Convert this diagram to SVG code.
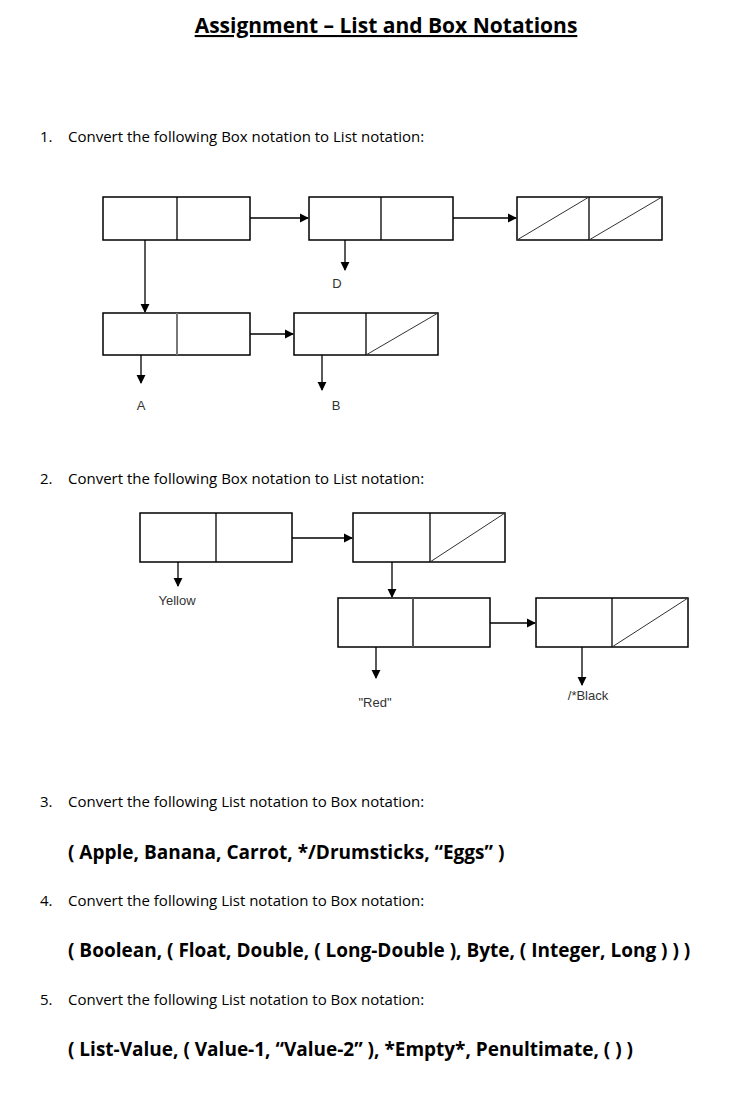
<svg xmlns="http://www.w3.org/2000/svg" width="735" height="1105" viewBox="0 0 735 1105">
<style>
.b{fill:#fff;stroke:#000;stroke-width:1.5}
.l{stroke:#000;stroke-width:1.3;fill:none}
.s{stroke:#333;stroke-width:1}
.t{font-family:"Open Sans","Liberation Sans",sans-serif;font-size:15px;fill:#000}
.h{font-family:"Open Sans","Liberation Sans",sans-serif;font-size:19px;font-weight:bold;fill:#000}
.g{font-family:"Liberation Sans",Arial,sans-serif;font-size:13px;fill:#333;text-anchor:middle}
</style>
<defs><marker id="a" viewBox="0 0 10 10" refX="9" refY="5" markerWidth="7" markerHeight="7" orient="auto"><path d="M0,0L10,5L0,10z" fill="#000"/></marker></defs>
<rect width="735" height="1105" fill="#fff"/>
<text x="386" y="33" text-anchor="middle" font-family="'Open Sans','Liberation Sans',sans-serif" font-size="21" font-weight="bold" text-decoration="underline">Assignment – List and Box Notations</text>
<text class="t" x="40" y="142">1.</text><text class="t" x="68" y="142">Convert the following Box notation to List notation:</text>
<text class="t" x="40" y="484">2.</text><text class="t" x="68" y="484">Convert the following Box notation to List notation:</text>
<text class="t" x="40" y="807">3.</text><text class="t" x="68" y="807">Convert the following List notation to Box notation:</text>
<text class="h" x="68" y="859">( Apple, Banana, Carrot, */Drumsticks, “Eggs” )</text>
<text class="t" x="40" y="906">4.</text><text class="t" x="68" y="906">Convert the following List notation to Box notation:</text>
<text class="h" x="68" y="957">( Boolean, ( Float, Double, ( Long-Double ), Byte, ( Integer, Long ) ) )</text>
<text class="t" x="40" y="1005">5.</text><text class="t" x="68" y="1005">Convert the following List notation to Box notation:</text>
<text class="h" x="68" y="1056">( List-Value, ( Value-1, “Value-2” ), *Empty*, Penultimate, ( ) )</text>
<g id="d1n1"><rect class="b" x="103" y="197" width="147" height="43"/><line class="l" x1="177" y1="197" x2="177" y2="240"/></g>
<g id="d1n2"><rect class="b" x="309" y="197" width="144" height="43"/><line class="l" x1="381" y1="197" x2="381" y2="240"/></g>
<g id="d1n3"><rect class="b" x="517" y="197" width="145" height="43"/><line class="l" x1="589" y1="197" x2="589" y2="240"/><line class="s" x1="517" y1="240" x2="589" y2="197"/><line class="s" x1="589" y1="240" x2="662" y2="197"/></g>
<g id="d1n4"><rect class="b" x="103" y="313" width="147" height="42"/><line x1="177" y1="313" x2="177" y2="355" stroke="#777" stroke-width="2"/></g>
<g id="d1n5"><rect class="b" x="294" y="313" width="144" height="42"/><line class="l" x1="366" y1="313" x2="366" y2="355"/><line class="s" x1="366" y1="355" x2="438" y2="313"/></g>
<g id="d2n1"><rect class="b" x="140" y="513" width="152" height="49"/><line class="l" x1="216" y1="513" x2="216" y2="562"/></g>
<g id="d2n2"><rect class="b" x="353" y="513" width="152" height="49"/><line class="l" x1="430" y1="513" x2="430" y2="562"/><line class="s" x1="430" y1="562" x2="505" y2="513"/></g>
<g id="d2n3"><rect class="b" x="338" y="598" width="152" height="49"/><line x1="413" y1="598" x2="413" y2="647" stroke="#555" stroke-width="2"/></g>
<g id="d2n4"><rect class="b" x="536" y="598" width="152" height="49"/><line class="l" x1="612" y1="598" x2="612" y2="647"/><line class="s" x1="612" y1="647" x2="688" y2="598"/></g>
<g id="connectors">
<line class="l" x1="250" y1="218" x2="308" y2="218" marker-end="url(#a)"/>
<line class="l" x1="453" y1="218" x2="516" y2="218" marker-end="url(#a)"/>
<line class="l" x1="145" y1="240" x2="145" y2="312" marker-end="url(#a)"/>
<line class="l" x1="345" y1="240" x2="345" y2="270" marker-end="url(#a)"/>
<line class="l" x1="250" y1="334" x2="293" y2="334" marker-end="url(#a)"/>
<line class="l" x1="141" y1="355" x2="141" y2="383" marker-end="url(#a)"/>
<line class="l" x1="322" y1="355" x2="322" y2="390" marker-end="url(#a)"/>
<line class="l" x1="292" y1="538" x2="352" y2="538" marker-end="url(#a)"/>
<line class="l" x1="178" y1="562" x2="178" y2="586" marker-end="url(#a)"/>
<line class="l" x1="392" y1="562" x2="392" y2="597" marker-end="url(#a)"/>
<line class="l" x1="490" y1="623" x2="535" y2="623" marker-end="url(#a)"/>
<line class="l" x1="376" y1="647" x2="376" y2="678" marker-end="url(#a)"/>
<line class="l" x1="582" y1="647" x2="582" y2="685" marker-end="url(#a)"/>
</g>
<text class="g" x="337" y="288" font-size="12">D</text>
<text class="g" x="141" y="410" font-size="12">A</text>
<text class="g" x="336" y="410" font-size="12">B</text>
<text class="g" x="177" y="605" font-size="14">Yellow</text>
<text class="g" x="375" y="707" font-size="14">"Red"</text>
<text class="g" x="588" y="700" font-size="14">/*Black</text>
</svg>
